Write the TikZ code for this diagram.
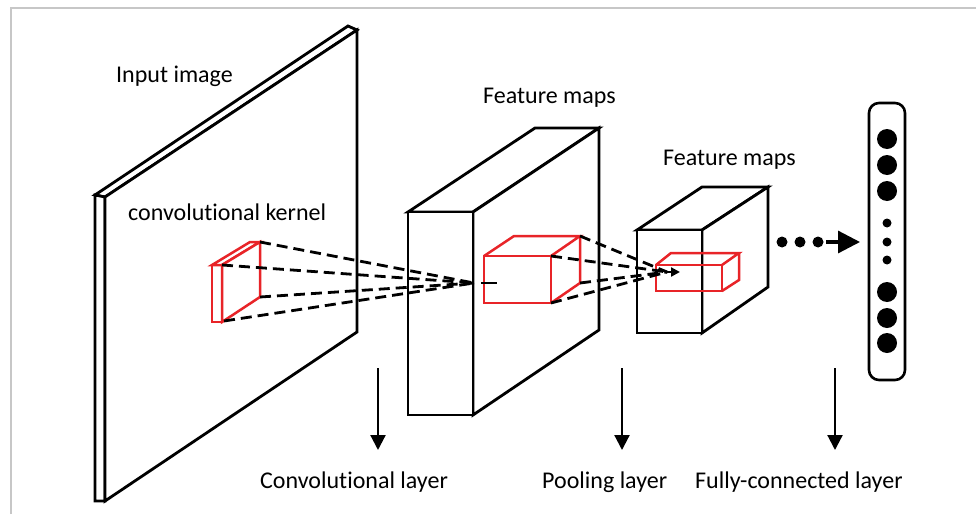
\documentclass[tikz,border=0pt]{standalone}
\usepackage{fontspec}
\setmainfont[Ligatures=NoCommon]{Carlito}
\usetikzlibrary{arrows.meta}
\definecolor{kred}{RGB}{232,36,40}
\begin{document}
\begin{tikzpicture}[x=1pt,y=-1pt,
  blk/.style={draw=black,line width=2.8pt,fill=white},
  redl/.style={draw=kred,line width=2.5pt},
  dsh/.style={draw=black,line width=2.8pt,dash pattern=on 11pt off 6pt},
  lbl/.style={inner sep=0pt,anchor=base west,font=\fontsize{24}{28}\selectfont},
  downarrow/.style={draw=black,line width=2.2pt,-{Triangle[length=15pt,width=15pt]}}
]
\useasboundingbox (0,0) rectangle (976,514);
\draw[black!22,line width=2pt] (11,514) -- (11,8) -- (976,8);

% ---------- input image plate ----------
\coordinate (p1) at (105,197);
\coordinate (p2) at (357,30);
\coordinate (p3) at (357,332);
\coordinate (p4) at (105,501);
\filldraw[blk] (95,195) -- (348,26) -- (p2) -- (p1) -- cycle;
\filldraw[blk] (95,195) -- (p1) -- (p4) -- (95,501) -- cycle;
\filldraw[blk] (p1) -- (p2) -- (p3) -- (p4) -- cycle;

% ---------- convolutional kernel ----------
\coordinate (k1) at (260,242);
\coordinate (k2) at (222,265);
\coordinate (k3) at (260,297);
\coordinate (k4) at (224,321);
\filldraw[redl,fill=white] (212,265) -- (222,265) -- (222,322) -- (212,322) -- cycle;
\filldraw[redl,fill=white] (212,265) -- (250,242) -- (260,242) -- (222,265) -- cycle;
\filldraw[redl,fill=white] (222,265) -- (260,242) -- (260,297) -- (222,322) -- cycle;

% ---------- first feature maps (convolutional) ----------
\filldraw[blk] (408,212) -- (535,128) -- (599,128) -- (473,212) -- cycle;
\filldraw[blk] (473,212) -- (599,128) -- (599,330) -- (473,415) -- cycle;
\filldraw[blk] (408,212) rectangle (473,415);

% red box inside
\coordinate (r1) at (580,236);
\coordinate (r2) at (551,256);
\coordinate (r3) at (580,283);
\coordinate (r4) at (551,303);
\draw[redl] (484,256) rectangle (551,303);
\draw[redl] (484,256) -- (514,236) -- (r1) -- (r2);
\draw[redl] (r1) -- (r3) -- (r4);

% dashed projection lines 1
\coordinate (a1) at (474,283);
\coordinate (a1b) at (481,283);
\coordinate (a1c) at (497,283);
\draw[dsh] (k1) -- (a1);
\draw[dsh] (k2) -- (a1);
\draw[dsh] (k3) -- (a1);
\draw[dsh] (k4) -- (a1);
\draw[black,line width=2.8pt] (a1b) -- (a1c);

% ---------- second feature maps (pooling) ----------
\filldraw[blk] (637,230) -- (702,187) -- (768,187) -- (702,230) -- cycle;
\filldraw[blk] (702,230) -- (768,187) -- (768,287) -- (702,333) -- cycle;
\filldraw[blk] (637,230) rectangle (702,333);

% red box inside
\draw[redl] (656,265) rectangle (722,291);
\draw[redl] (656,265) -- (671,253) -- (739,253) -- (722,265);
\draw[redl] (739,253) -- (739,280) -- (722,291);

% dashed projection lines 2
\coordinate (a2) at (667,272);
\coordinate (t2) at (680,272);
\draw[dsh] (r1) -- (a2);
\draw[dsh] (r2) -- (a2);
\draw[dsh] (r3) -- (a2);
\draw[dsh] (r4) -- (a2);
\draw[black,line width=2.2pt,-{Triangle[length=9pt,width=9pt]}] (a2) -- (t2);

% ---------- dotted arrow ----------
\fill (782,242) circle (5.5pt);
\fill (800,242) circle (5.5pt);
\fill (818,242) circle (5.5pt);
\coordinate (da1) at (826,242);
\coordinate (da2) at (860,242);
\draw[black,line width=3.2pt,-{Triangle[length=22pt,width=22pt]}] (da1) -- (da2);

% ---------- fully connected column ----------
\node[draw=black,line width=2.6pt,rounded corners=10pt,minimum width=36pt,minimum height=277pt,inner sep=0pt] (fc) at (887,241.5) {};
\foreach \yy in {139,165,191,292,318,343} \fill (887,\yy) circle (10pt);
\foreach \yy in {223,242,260} \fill (887,\yy) circle (4.5pt);

% ---------- labels ----------
\node[lbl] (tin) at (116,82) {Input image};
\node[lbl] (tkern) at (128,220) {convolutional kernel};
\node[lbl] (tfm1) at (483,103) {Feature maps};
\node[lbl] (tfm2) at (663,165) {Feature maps};
\node[lbl] (tconv) at (260,488) {Convolutional layer};
\node[lbl] (tpool) at (542,488) {Pooling layer};
\begin{scope}
\clip (680,440) rectangle (901,514);
\node[lbl] (tfc) at (695,488) {Fully-connected layers};
\end{scope}

% ---------- down arrows ----------
\coordinate (d1s) at (378,368); \coordinate (d1e) at (378,450);
\coordinate (d2s) at (622,368); \coordinate (d2e) at (622,450);
\coordinate (d3s) at (835,368); \coordinate (d3e) at (835,450);
\draw[downarrow] (d1s) -- (d1e);
\draw[downarrow] (d2s) -- (d2e);
\draw[downarrow] (d3s) -- (d3e);
\end{tikzpicture}
\end{document}
